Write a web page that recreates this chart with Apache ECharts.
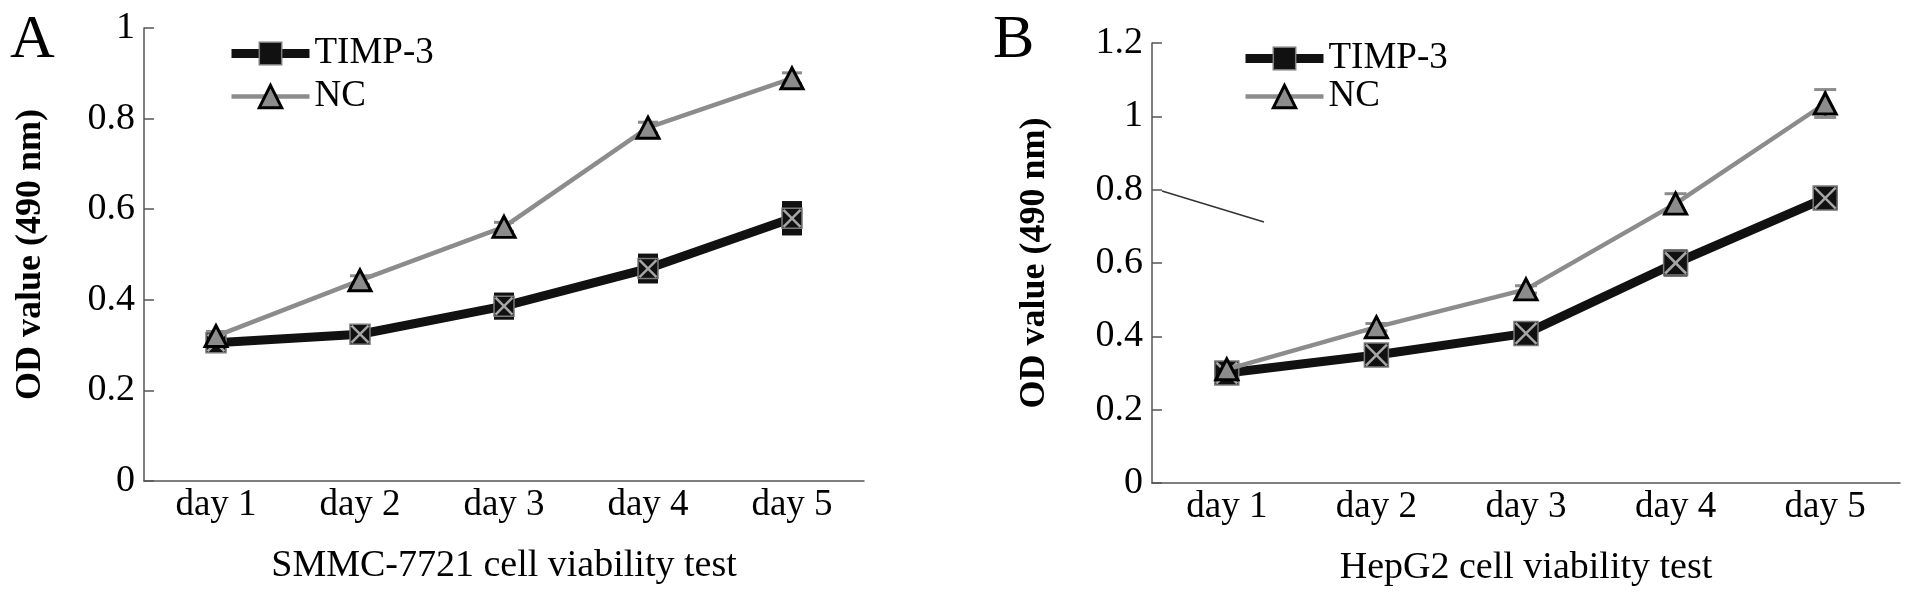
<!DOCTYPE html>
<html>
<head>
<meta charset="utf-8">
<script src="https://cdn.jsdelivr.net/npm/echarts@6/dist/echarts.min.js"></script>
<style>
html, body { margin: 0; padding: 0; background: #fff; }
#main { width: 1913px; height: 604px; }
</style>
</head>
<body>
<div id="main"></div>
<script>
var days = ['day 1', 'day 2', 'day 3', 'day 4', 'day 5'];

// panel A: SMMC-7721
var smmcTimp = [0.305, 0.324, 0.386, 0.469, 0.58];
var smmcTimpErr = [0.015, 0.012, 0.03, 0.033, 0.038];
var smmcNc = [0.32, 0.443, 0.561, 0.78, 0.889];
var smmcNcErr = [0.01, 0.01, 0.01, 0.012, 0.012];

// panel B: HepG2
var hepTimp = [0.30, 0.349, 0.408, 0.60, 0.777];
var hepTimpErr = [0.02, 0.015, 0.015, 0.037, 0.02];
var hepNc = [0.31, 0.425, 0.528, 0.762, 1.035];
var hepNcErr = [0.01, 0.01, 0.01, 0.027, 0.038];

var yTicksA = { min: 0, max: 1, interval: 0.2 };
var yTicksB = { min: 0, max: 1.2, interval: 0.2 };

var serif = 'Liberation Serif';

function errData(vals, errs) {
	return vals.map(function (v, i) {
		return [i, v - errs[i], v + errs[i]];
	});
}

// black block behind the TIMP-3 squares
function blockErr(w) {
	return function (params, api) {
		var top = api.coord([api.value(0), api.value(2)]);
		var bot = api.coord([api.value(0), api.value(1)]);
		return {
			type: 'rect',
			shape: { x: top[0] - w / 2, y: top[1], width: w, height: bot[1] - top[1] },
			style: { fill: '#111' }
		};
	};
}

// grey whisker with caps for NC
function capErr(w) {
	return function (params, api) {
		var top = api.coord([api.value(0), api.value(2)]);
		var bot = api.coord([api.value(0), api.value(1)]);
		var st = { stroke: '#8c8c8c', lineWidth: 3 };
		return {
			type: 'group',
			children: [
				{ type: 'line', shape: { x1: top[0], y1: top[1], x2: bot[0], y2: bot[1] }, style: st },
				{ type: 'line', shape: { x1: top[0] - w / 2, y1: top[1], x2: top[0] + w / 2, y2: top[1] }, style: st },
				{ type: 'line', shape: { x1: bot[0] - w / 2, y1: bot[1], x2: bot[0] + w / 2, y2: bot[1] }, style: st }
			]
		};
	};
}

// light grey cross drawn on top of each square
function crossMark(w) {
	return function (params, api) {
		var c = api.coord([api.value(0), api.value(1)]);
		var h = w / 2;
		var st = { stroke: '#a6a6a6', lineWidth: 2.5 };
		return {
			type: 'group',
			children: [
				{ type: 'line', shape: { x1: c[0] - h, y1: c[1] - h, x2: c[0] + h, y2: c[1] + h }, style: st },
				{ type: 'line', shape: { x1: c[0] - h, y1: c[1] + h, x2: c[0] + h, y2: c[1] - h }, style: st }
			]
		};
	};
}

function xAxisFor(idx, name) {
	return {
		type: 'category',
		gridIndex: idx,
		data: days,
		name: name,
		nameLocation: 'middle',
		nameGap: 66,
		nameTextStyle: { fontFamily: serif, fontSize: 38, color: '#000' },
		axisLine: { lineStyle: { color: '#555', width: 1.5 } },
		axisTick: { inside: true, length: 10, lineStyle: { color: '#555', width: 1.5 } },
		axisLabel: { fontFamily: serif, fontSize: 37, color: '#000', margin: 6 },
		splitLine: { show: false }
	};
}

function yAxisFor(idx, ticks, gap) {
	return {
		type: 'value',
		gridIndex: idx,
		min: ticks.min,
		max: ticks.max,
		interval: ticks.interval,
		name: 'OD value (490 nm)',
		nameLocation: 'middle',
		nameRotate: 90,
		nameGap: gap,
		nameTextStyle: { fontFamily: serif, fontSize: 36, fontWeight: 'bold', color: '#000' },
		axisLine: { show: true, lineStyle: { color: '#555', width: 1.5 } },
		axisTick: { show: true, inside: true, length: 10, lineStyle: { color: '#555', width: 1.5 } },
		axisLabel: { fontFamily: serif, fontSize: 38, color: '#000', margin: 9 },
		splitLine: { show: false }
	};
}

function timpLine(idx, vals, size) {
	return {
		name: 'TIMP-3',
		type: 'line',
		xAxisIndex: idx,
		yAxisIndex: idx,
		data: vals,
		symbol: 'rect',
		symbolSize: size,
		lineStyle: { color: '#111', width: 9 },
		itemStyle: { color: '#111', borderColor: '#7a7a7a', borderWidth: 1.5 },
		z: 2
	};
}

function ncLine(idx, vals) {
	return {
		name: 'NC',
		type: 'line',
		xAxisIndex: idx,
		yAxisIndex: idx,
		data: vals,
		symbol: 'triangle',
		symbolSize: [22, 21],
		lineStyle: { color: '#8c8c8c', width: 4.5 },
		itemStyle: { color: '#8c8c8c', borderColor: '#000', borderWidth: 3 },
		z: 4
	};
}

function customSeries(idx, data, render, z) {
	return {
		type: 'custom',
		xAxisIndex: idx,
		yAxisIndex: idx,
		data: data,
		renderItem: render,
		silent: true,
		z: z
	};
}

function pointData(vals) {
	return vals.map(function (v, i) { return [i, v]; });
}

var legendBase = {
	orient: 'vertical',
	itemWidth: 78,
	itemHeight: 28,
	textStyle: { fontFamily: serif, fontSize: 37, color: '#000' },
	data: [
		{ name: 'TIMP-3', lineStyle: { color: '#111', width: 9 }, itemStyle: { color: '#111', borderColor: '#7a7a7a', borderWidth: 1.5 } },
		{ name: 'NC', lineStyle: { color: '#8c8c8c', width: 4.5 }, itemStyle: { color: '#8c8c8c', borderColor: '#000', borderWidth: 3 } }
	]
};

var myChart = echarts.init(document.getElementById('main'));
var option = {
	animation: false,
	backgroundColor: '#fff',
	grid: [
		{ left: 144, right: 1049, top: 28, bottom: 123 },
		{ left: 1152, right: 13, top: 43, bottom: 121 }
	],
	legend: [
		Object.assign({}, legendBase, { left: 222, top: 30, itemGap: 6 }),
		Object.assign({}, legendBase, { left: 1236, top: 35, itemGap: 1 })
	],
	xAxis: [
		xAxisFor(0, 'SMMC-7721 cell viability test'),
		xAxisFor(1, 'HepG2 cell viability test')
	],
	yAxis: [
		yAxisFor(0, yTicksA, 95),
		yAxisFor(1, yTicksB, 99)
	],
	graphic: [
		{ type: 'text', left: 10, top: 10, style: { text: 'A', fontFamily: serif, fontSize: 62, fill: '#000' } },
		{ type: 'text', left: 993, top: 10, style: { text: 'B', fontFamily: serif, fontSize: 62, fill: '#000' } },
		// stray pen stroke in panel B
		{ type: 'line', shape: { x1: 1162, y1: 191, x2: 1264, y2: 222 }, style: { stroke: '#333', lineWidth: 1.5 } }
	],
	series: [
		customSeries(0, errData(smmcTimp, smmcTimpErr), blockErr(20), 1),
		customSeries(0, errData(smmcNc, smmcNcErr), capErr(20), 1),
		timpLine(0, smmcTimp, 20),
		customSeries(0, pointData(smmcTimp), crossMark(17), 3),
		ncLine(0, smmcNc),
		customSeries(1, errData(hepTimp, hepTimpErr), blockErr(24), 1),
		customSeries(1, errData(hepNc, hepNcErr), capErr(22), 1),
		timpLine(1, hepTimp, 24),
		customSeries(1, pointData(hepTimp), crossMark(21), 3),
		ncLine(1, hepNc)
	]
};
myChart.setOption(option);
</script>
</body>
</html>
